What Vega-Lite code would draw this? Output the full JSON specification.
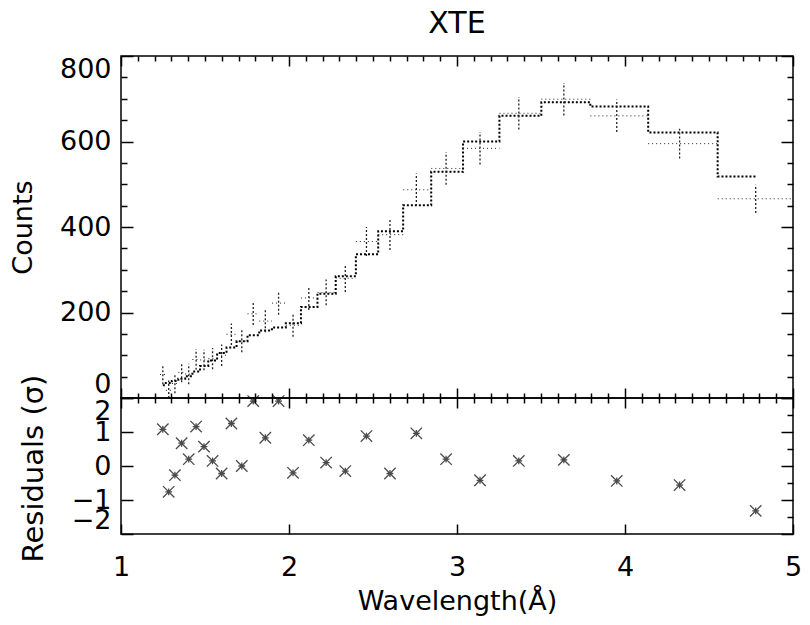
{
  "$schema": "https://vega.github.io/schema/vega-lite/v6.json",
  "padding": {"left": 8, "top": 8, "right": 6, "bottom": 4},
  "background": "white",
  "bounds": "flush",
  "datasets": {
    "bins": [
      {"wl": 4.778, "lo": 4.552, "hi": 5.0, "model": 518, "counts": 466, "ylo": 433, "yhi": 499, "resid": -1.32},
      {"wl": 4.325, "lo": 4.138, "hi": 4.552, "model": 621, "counts": 595, "ylo": 560, "yhi": 630, "resid": -0.56},
      {"wl": 3.951, "lo": 3.794, "hi": 4.138, "model": 682, "counts": 660, "ylo": 622, "yhi": 698, "resid": -0.44},
      {"wl": 3.636, "lo": 3.502, "hi": 3.794, "model": 692, "counts": 699, "ylo": 661, "yhi": 737, "resid": 0.18},
      {"wl": 3.368, "lo": 3.253, "hi": 3.502, "model": 660, "counts": 666, "ylo": 628, "yhi": 704, "resid": 0.15},
      {"wl": 3.137, "lo": 3.036, "hi": 3.253, "model": 600, "counts": 584, "ylo": 546, "yhi": 622, "resid": -0.42},
      {"wl": 2.935, "lo": 2.847, "hi": 3.036, "model": 529, "counts": 537, "ylo": 499, "yhi": 575, "resid": 0.2},
      {"wl": 2.758, "lo": 2.68, "hi": 2.847, "model": 451, "counts": 487, "ylo": 449, "yhi": 525, "resid": 0.96},
      {"wl": 2.601, "lo": 2.531, "hi": 2.68, "model": 390, "counts": 382, "ylo": 346, "yhi": 418, "resid": -0.22},
      {"wl": 2.461, "lo": 2.398, "hi": 2.531, "model": 336, "counts": 366, "ylo": 332, "yhi": 400, "resid": 0.88},
      {"wl": 2.335, "lo": 2.278, "hi": 2.398, "model": 285, "counts": 280, "ylo": 248, "yhi": 312, "resid": -0.15},
      {"wl": 2.221, "lo": 2.17, "hi": 2.278, "model": 244, "counts": 247, "ylo": 217, "yhi": 277, "resid": 0.1},
      {"wl": 2.118, "lo": 2.071, "hi": 2.17, "model": 213, "counts": 234, "ylo": 206, "yhi": 262, "resid": 0.76},
      {"wl": 2.024, "lo": 1.981, "hi": 2.071, "model": 175, "counts": 170, "ylo": 143, "yhi": 197, "resid": -0.2},
      {"wl": 1.938, "lo": 1.899, "hi": 1.981, "model": 165, "counts": 222, "ylo": 195, "yhi": 249, "resid": 1.91},
      {"wl": 1.859, "lo": 1.823, "hi": 1.899, "model": 158, "counts": 180, "ylo": 154, "yhi": 206, "resid": 0.83},
      {"wl": 1.787, "lo": 1.753, "hi": 1.823, "model": 147, "counts": 197, "ylo": 171, "yhi": 223, "resid": 1.91},
      {"wl": 1.719, "lo": 1.688, "hi": 1.753, "model": 133, "counts": 133, "ylo": 107, "yhi": 159, "resid": 0.0},
      {"wl": 1.657, "lo": 1.628, "hi": 1.688, "model": 118, "counts": 149, "ylo": 124, "yhi": 174, "resid": 1.25},
      {"wl": 1.599, "lo": 1.572, "hi": 1.628, "model": 105, "counts": 100, "ylo": 75, "yhi": 125, "resid": -0.22},
      {"wl": 1.545, "lo": 1.52, "hi": 1.572, "model": 88, "counts": 92, "ylo": 67, "yhi": 117, "resid": 0.15},
      {"wl": 1.494, "lo": 1.471, "hi": 1.52, "model": 75, "counts": 89, "ylo": 65, "yhi": 113, "resid": 0.57},
      {"wl": 1.447, "lo": 1.425, "hi": 1.471, "model": 62, "counts": 90, "ylo": 66, "yhi": 114, "resid": 1.16},
      {"wl": 1.403, "lo": 1.382, "hi": 1.425, "model": 51, "counts": 56, "ylo": 32, "yhi": 80, "resid": 0.2},
      {"wl": 1.361, "lo": 1.341, "hi": 1.382, "model": 45, "counts": 60, "ylo": 37, "yhi": 83, "resid": 0.67},
      {"wl": 1.321, "lo": 1.303, "hi": 1.341, "model": 40, "counts": 34, "ylo": 11, "yhi": 57, "resid": -0.27},
      {"wl": 1.284, "lo": 1.267, "hi": 1.303, "model": 35, "counts": 18, "ylo": 0, "yhi": 41, "resid": -0.76},
      {"wl": 1.249, "lo": 1.232, "hi": 1.267, "model": 30, "counts": 55, "ylo": 32, "yhi": 78, "resid": 1.08}
    ]
  },
  "vconcat": [
    {
      "width": 672,
      "height": 342,
      "title": {"text": "XTE", "fontSize": 30, "fontWeight": "normal", "font": "DejaVu Sans", "offset": 16, "color": "black", "anchor": "middle"},
      "data": {"name": "bins"},
      "resolve": {"axis": {"x": "independent", "y": "independent"}},
      "layer": [
        {
          "mark": {"type": "line", "interpolate": "step", "color": "black", "strokeWidth": 2, "strokeDash": [2, 2]},
          "encoding": {
            "x": {"field": "wl", "type": "quantitative", "scale": {"domain": [1, 5]},
              "axis": {"orient": "bottom", "title": null, "labels": false,
                "values": [1,1.1,1.2,1.3,1.4,1.5,1.6,1.7,1.8,1.9,2,2.1,2.2,2.3,2.4,2.5,2.6,2.7,2.8,2.9,3,3.1,3.2,3.3,3.4,3.5,3.6,3.7,3.8,3.9,4,4.1,4.2,4.3,4.4,4.5,4.6,4.7,4.8,4.9,5],
                "tickSize": {"condition": {"test": "datum.value % 1 == 0", "value": -10}, "value": -5}}},
            "y": {"field": "model", "type": "quantitative", "scale": {"domain": [0, 800]},
              "axis": {"orient": "left", "title": "Counts", "format": "d",
                "values": [0,50,100,150,200,250,300,350,400,450,500,550,600,650,700,750,800],
                "labelExpr": "datum.value % 200 == 0 ? datum.label : ''",
                "tickSize": {"condition": {"test": "datum.value % 200 == 0", "value": -12}, "value": -6},
                "labelFlush": true, "labelOverlap": false, "labelPadding": 22,
                "titleX": -98, "titleY": 171, "titleBaseline": "middle", "titleAngle": 270}}
          }
        },
        {
          "mark": {"type": "rule", "color": "#222", "strokeWidth": 1, "strokeDash": [1, 3], "clip": true},
          "encoding": {
            "x": {"field": "lo", "type": "quantitative",
              "axis": {"orient": "top", "title": null, "labels": false,
                "values": [1,1.1,1.2,1.3,1.4,1.5,1.6,1.7,1.8,1.9,2,2.1,2.2,2.3,2.4,2.5,2.6,2.7,2.8,2.9,3,3.1,3.2,3.3,3.4,3.5,3.6,3.7,3.8,3.9,4,4.1,4.2,4.3,4.4,4.5,4.6,4.7,4.8,4.9,5],
                "tickSize": {"condition": {"test": "datum.value % 1 == 0", "value": -10}, "value": -5}}},
            "x2": {"field": "hi"},
            "y": {"field": "counts", "type": "quantitative",
              "axis": {"orient": "right", "title": null, "labels": false,
                "values": [0,50,100,150,200,250,300,350,400,450,500,550,600,650,700,750,800],
                "tickSize": {"condition": {"test": "datum.value % 200 == 0", "value": -12}, "value": -6}}}
          }
        },
        {
          "mark": {"type": "rule", "color": "#222", "strokeWidth": 1.3, "strokeDash": [2, 2], "clip": true},
          "encoding": {
            "x": {"field": "wl", "type": "quantitative", "axis": null},
            "y": {"field": "ylo", "type": "quantitative", "axis": null},
            "y2": {"field": "yhi"}
          }
        }
      ]
    },
    {
      "width": 672,
      "height": 136,
      "data": {"name": "bins"},
      "resolve": {"axis": {"x": "independent", "y": "independent"}},
      "layer": [
        {
          "mark": {"type": "point", "shape": "M-1,-1L1,1M-1,1L1,-1M0,-0.6L0,0.6M-0.6,0L0.6,0", "filled": false, "color": "black", "strokeWidth": 1.3, "size": 130},
          "encoding": {
            "x": {"field": "wl", "type": "quantitative", "scale": {"domain": [1, 5]},
              "axis": {"orient": "bottom", "title": "Wavelength(Å)", "format": "d",
                "values": [1, 2, 3, 4, 5],
                "tickSize": -10,
                "labelFlush": false, "labelOverlap": false, "labelPadding": 30, "titlePadding": 8}},
            "y": {"field": "resid", "type": "quantitative", "scale": {"domain": [-2, 2]},
              "axis": {"orient": "left", "title": "Residuals (σ)", "format": "d",
                "values": [-2,-1.5,-1,-0.5,0,0.5,1,1.5,2],
                "labelExpr": "datum.value % 1 == 0 ? datum.label : ''",
                "tickSize": {"condition": {"test": "datum.value % 1 == 0", "value": -12}, "value": -6},
                "labelFlush": true, "labelOverlap": false, "labelPadding": 22,
                "titleFontSize": 29,
                "titleX": -88, "titleY": 70, "titleBaseline": "middle", "titleAngle": 270}}
          }
        },
        {
          "mark": {"type": "point", "opacity": 0},
          "encoding": {
            "x": {"field": "wl", "type": "quantitative",
              "axis": {"orient": "top", "title": null, "labels": false,
                "values": [1,1.1,1.2,1.3,1.4,1.5,1.6,1.7,1.8,1.9,2,2.1,2.2,2.3,2.4,2.5,2.6,2.7,2.8,2.9,3,3.1,3.2,3.3,3.4,3.5,3.6,3.7,3.8,3.9,4,4.1,4.2,4.3,4.4,4.5,4.6,4.7,4.8,4.9,5],
                "tickSize": {"condition": {"test": "datum.value % 1 == 0", "value": -10}, "value": -5}}},
            "y": {"field": "resid", "type": "quantitative",
              "axis": {"orient": "right", "title": null, "labels": false,
                "values": [-2,-1.5,-1,-0.5,0,0.5,1,1.5,2],
                "tickSize": {"condition": {"test": "datum.value % 1 == 0", "value": -12}, "value": -6}}}
          }
        }
      ]
    }
  ],
  "config": {
    "font": "DejaVu Sans",
    "view": {"stroke": "black", "strokeWidth": 1.5},
    "concat": {"spacing": 0},
    "axis": {
      "domain": false, "grid": false, "ticks": true, "tickColor": "black", "tickWidth": 1.5,
      "labelColor": "black", "titleColor": "black", "labelFont": "DejaVu Sans", "titleFont": "DejaVu Sans",
      "labelFontSize": 27, "titleFontSize": 27, "titleFontWeight": "normal", "labelOverlap": false
    }
  }
}
